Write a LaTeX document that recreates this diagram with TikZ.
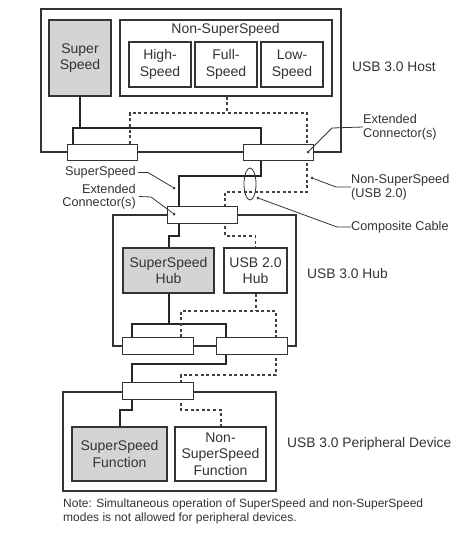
\documentclass[tikz,border=0pt]{standalone}
\usepackage{fontspec}
\setmainfont{Liberation Sans}
\usetikzlibrary{backgrounds}
\definecolor{ink}{HTML}{333333}
\definecolor{boxgray}{HTML}{D4D4D4}
\begin{document}
\begin{tikzpicture}[x=1pt,y=-1pt,
  outer/.style={draw=ink,line width=1.2pt,inner sep=0pt},
  inbox/.style={draw=ink,line width=1.2pt,fill=white,inner sep=0pt,align=center,text=ink,font=\fontsize{14}{16.5}\selectfont},
  ssbox/.style={inbox,fill=boxgray},
  conn/.style={draw=ink,line width=1pt,fill=white,inner sep=0pt,minimum width=70pt,minimum height=16.5pt},
  ssline/.style={draw=black!85,line width=2.6pt},
  nssline/.style={draw=black!75,line width=1.5pt,dash pattern=on 3pt off 2.6pt},
  lead/.style={draw=ink,line width=0.8pt},
  dotm/.style={fill=ink,circle,inner sep=0pt,minimum size=3pt},
  lbl/.style={text=ink,inner sep=0pt,font=\fontsize{12.7}{13.5}\selectfont},
  biglbl/.style={text=ink,inner sep=0pt,font=\fontsize{13.8}{16}\selectfont}]
\useasboundingbox (0,0) rectangle (475,533);
% outer boxes
\node[outer,minimum width=300pt,minimum height=143pt] (host) at (191,80.5) {};
\node[outer,minimum width=183pt,minimum height=131pt] (hub) at (204.5,280.5) {};
\node[outer,minimum width=213pt,minimum height=99pt] (periph) at (169.5,441.5) {};
% host inner boxes
\node[ssbox,minimum width=62pt,minimum height=76pt] (ss) at (80,58) {Super\\Speed};
\node[inbox,minimum width=212pt,minimum height=76pt] (nss) at (226,58) {};
\node[text=ink,inner sep=0pt,font=\fontsize{14}{16.5}\selectfont] (nsslbl) at (225.5,30) {Non-SuperSpeed};
\node[inbox,minimum width=62pt,minimum height=45pt] (hs) at (160,64.5) {High-\\Speed};
\node[inbox,minimum width=62pt,minimum height=45pt] (fs) at (226,64.5) {Full-\\Speed};
\node[inbox,minimum width=62pt,minimum height=45pt] (ls) at (292,64.5) {Low-\\Speed};
% hub inner boxes
\node[ssbox,minimum width=91pt,minimum height=45pt] (ssh) at (168.5,270.5) {SuperSpeed\\Hub};
\node[inbox,minimum width=63pt,minimum height=45pt] (u2h) at (255.5,270.5) {USB 2.0\\Hub};
% peripheral inner boxes
\node[ssbox,minimum width=95pt,minimum height=54pt] (ssf) at (119.5,454) {SuperSpeed\\Function};
\node[inbox,minimum width=91pt,minimum height=54pt] (nssf) at (220.5,454) {Non-\\SuperSpeed\\Function};
% connectors
\node[conn] (hcl) at (102,152.5) {};
\node[conn] (hcr) at (278,152.5) {};
\node[conn] (huc) at (202,215) {};
\node[conn,minimum width=71pt] (hdl) at (157.5,346) {};
\node[conn,minimum width=71pt] (hdr) at (251.5,346) {};
\node[conn,minimum width=71pt] (pc) at (157.5,391) {};
% junction coordinates
\coordinate (a1) at (73,128);
\coordinate (a2) at (261,128);
\coordinate (a3) at (261,176);
\coordinate (a4) at (179,176);
\coordinate (b1) at (179,236);
\coordinate (b2) at (169,236);
\coordinate (b3) at (132,324);
\coordinate (b4) at (226,324);
\coordinate (b5) at (226,364);
\coordinate (b6) at (132,364);
\coordinate (c1) at (132,410);
\coordinate (c2) at (120,410);
\coordinate (d1) at (227,113);
\coordinate (d2) at (130,113);
\coordinate (d3) at (307,113);
\coordinate (d4) at (307,192);
\coordinate (d5) at (225,192);
\coordinate (d6) at (225,236);
\coordinate (d7) at (255.5,236);
\coordinate (e1) at (256,311);
\coordinate (e2) at (181,311);
\coordinate (e3) at (276,311);
\coordinate (e4) at (276,375);
\coordinate (e5) at (181,375);
\coordinate (e6) at (181,410);
\coordinate (e7) at (221,410);
\begin{scope}[on background layer]
% SuperSpeed (thick) paths
\draw[ssline] (ss.south) -- (ss.south |- a1);
\draw[ssline] (hcl.north -| a1) -- (a1) -- (a2) -- (a3) -- (a4) -- (huc.north -| a4);
\draw[ssline] (huc.south -| b1) -- (b1) -- (b2) -- (ssh.north -| b2);
\draw[ssline] (ssh.south -| b2) -- (b2 |- b3);
\draw[ssline] (hdl.north -| b3) -- (b3) -- (b4) -- (hdr.north -| b4);
\draw[ssline] (hdr.south -| b5) -- (b5) -- (b6) -- (pc.north -| b6);
\draw[ssline] (pc.south -| c1) -- (c1) -- (c2) -- (ssf.north -| c2);
% Non-SuperSpeed (dotted) paths
\draw[nssline] (nss.south -| d1) -- (d1);
\draw[nssline] (hcl.north -| d2) -- (d2) -- (d3) -- (d4) -- (d5) -- (d6) -- (d7) -- (u2h.north -| d7);
\draw[nssline] (u2h.south -| e1) -- (e1);
\draw[nssline] (hdl.north -| e2) -- (e2) -- (e3) -- (e4) -- (e5) -- (e6) -- (e7) -- (nssf.north -| e7);
\end{scope}
% composite cable ellipse
\draw[lead] (250,184) ellipse [x radius=6pt, y radius=16pt];
% leader dots
\node[dotm] (p1) at (308,152) {};
\node[dotm] (p2) at (312,178) {};
\node[dotm] (p3) at (258,198) {};
\node[dotm] (p4) at (174,188) {};
\node[dotm] (p5) at (174,214) {};
% labels
\node[biglbl,anchor=west] (lhost) at (352,66.5) {USB 3.0 Host};
\node[biglbl,anchor=west] (lhub) at (307,274) {USB 3.0 Hub};
\node[biglbl,anchor=west] (lper) at (287,444) {USB 3.0 Peripheral Device};
\node[lbl,anchor=west,align=left] (lext1) at (363,127) {Extended\\Connector(s)};
\node[lbl,anchor=west,align=left] (lnss) at (351,187) {Non-SuperSpeed\\(USB 2.0)};
\node[lbl,anchor=west] (lcab) at (351,227) {Composite Cable};
\node[lbl,anchor=east] (lss) at (136,172.5) {SuperSpeed};
\node[lbl,anchor=east,align=right] (lext2) at (136,196.5) {Extended\\Connector(s)};
% leader lines
\draw[lead] (p1) -- (328,132) -- (332,128) -- (lext1.west);
\draw[lead] (p2) -- (336,187) -- (lnss.west);
\draw[lead] (p3) -- (337,227) -- (lcab.west);
\draw[lead] (lss.east) ++(2,0) -- (148,172.5) -- (p4);
\draw[lead] (lext2.east) ++(3,0) -- (151,197) -- (p5);
% note
\node[text=ink,inner sep=0pt,anchor=west,align=left,font=\fontsize{12}{14}\selectfont] (note) at (63,511) {Note: Simultaneous operation of SuperSpeed and non-SuperSpeed\\modes is not allowed for peripheral devices.};
\end{tikzpicture}
\end{document}
